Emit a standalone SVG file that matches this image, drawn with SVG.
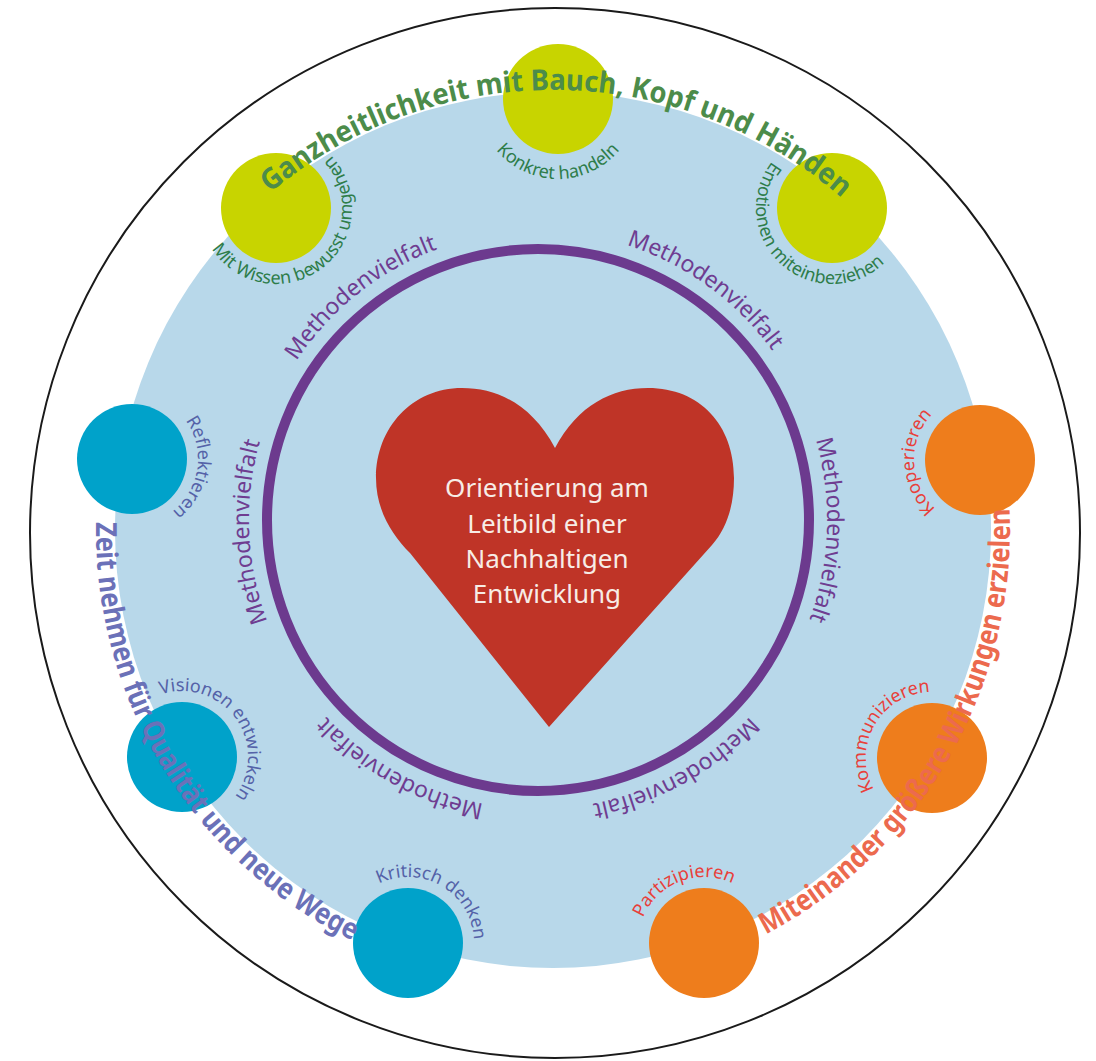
<svg xmlns="http://www.w3.org/2000/svg" width="1096" height="1061" viewBox="0 0 1096 1061">
<style>
.title{font-family:"Noto Sans","Open Sans",sans-serif;font-weight:bold;font-size:29px}
.lbl{font-family:"Noto Sans","Open Sans",sans-serif;font-size:18px}
.mv{font-family:"Noto Sans","Open Sans",sans-serif;font-size:23px;fill:#6f3d91}
.heart-t{font-family:"Noto Sans","Open Sans",sans-serif;font-size:26px;fill:#f7ece6;text-anchor:middle}
.g{fill:#c8d400}.b{fill:#00a2ca}.o{fill:#ee7d1c}
.gt{fill:#2e7d4a}.bt{fill:#5462a8}.ot{fill:#e8403a}
</style>
<defs>
<path id="pT1" d="M 129.0 412.4 A 440 440 0 0 1 979.0 419.8"/>
<path id="pT2" d="M 221.5 215.4 A 457 457 0 0 0 682.8 968.2"/>
<path id="pT3" d="M 436.3 971.8 A 457 457 0 0 0 875.0 205.7"/>
<path id="pM1" d="M 263.9 611.7 A 289 289 0 0 1 689.0 273.6"/>
<path id="pM2" d="M 376.4 280.4 A 289 289 0 0 1 815.8 599.7"/>
<path id="pM3" d="M 646.3 252.0 A 289 289 0 0 1 627.3 794.9"/>
<path id="pM4" d="M 823.4 474.8 A 289 289 0 0 1 348.4 738.1"/>
<path id="pM5" d="M 727.6 738.1 A 289 289 0 0 1 252.6 474.8"/>
<path id="pM6" d="M 450.6 795.5 A 289 289 0 0 1 427.9 252.8"/>
<path id="pKon" d="M 518 29.7 A 80 80 0 1 0 598 29.7"/>
<path id="pMit" d="M 205.5 179.5 A 76 76 0 1 0 265.4 132.7"/>
<path id="pEmo" d="M 847.8 133.7 A 76 76 0 1 0 904.3 184.5"/>
<path id="pRef" d="M 80.3 417.9 A 66 66 0 1 1 70.6 483.2"/>
<path id="pVis" d="M 116.4 763.9 A 66 66 0 1 1 155.2 817.3"/>
<path id="pKri" d="M 350.6 975.5 A 66 66 0 1 1 407.4 1009.0"/>
<path id="pPar" d="M 693.7 1008.2 A 66 66 0 1 1 755.3 984.5"/>
<path id="pKom" d="M 965 815.2 A 66 66 0 1 1 998 758"/>
<path id="pKoo" d="M 1038.3 491.0 A 66 66 0 1 1 1036.0 425.0"/>
</defs>
<rect width="1096" height="1061" fill="#ffffff"/>
<g id="background">
<circle cx="555" cy="533" r="525" fill="#ffffff" stroke="#1a1a1a" stroke-width="2"/>
<circle cx="553" cy="530" r="438" fill="#b8d8ea"/>
</g>
<g id="ring">
<circle cx="538" cy="520" r="271" fill="none" stroke="#6c3a8e" stroke-width="10"/>
<text class="mv"><textPath href="#pM1" startOffset="50%" text-anchor="middle">Methodenvielfalt</textPath></text>
<text class="mv"><textPath href="#pM2" startOffset="50%" text-anchor="middle">Methodenvielfalt</textPath></text>
<text class="mv"><textPath href="#pM3" startOffset="50%" text-anchor="middle">Methodenvielfalt</textPath></text>
<text class="mv"><textPath href="#pM4" startOffset="50%" text-anchor="middle">Methodenvielfalt</textPath></text>
<text class="mv"><textPath href="#pM5" startOffset="50%" text-anchor="middle">Methodenvielfalt</textPath></text>
<text class="mv"><textPath href="#pM6" startOffset="50%" text-anchor="middle">Methodenvielfalt</textPath></text>
</g>
<g id="heart">
<path d="M 555 448 C 532 405 498 388 462 388 C 412 388 376 428 376 478 C 376 510 392 535 410 553 L 549 727 L 712 545 C 727 528 734 505 734 478 C 734 425 700 388 648 388 C 612 388 578 405 555 448 Z" fill="#bf3427"/>
<text class="heart-t" x="547" y="497">Orientierung am</text>
<text class="heart-t" x="547" y="533">Leitbild einer</text>
<text class="heart-t" x="547" y="568">Nachhaltigen</text>
<text class="heart-t" x="547" y="603">Entwicklung</text>
</g>
<g id="node-konkret"><circle class="g" cx="558" cy="99" r="55"/>
<text class="lbl gt"><textPath href="#pKon" startOffset="50%" text-anchor="middle">Konkret handeln</textPath></text></g>
<g id="node-wissen"><circle class="g" cx="276" cy="208" r="55"/>
<text class="lbl gt"><textPath href="#pMit" startOffset="50%" text-anchor="middle">Mit Wissen bewusst umgehen</textPath></text></g>
<g id="node-emotionen"><circle class="g" cx="832" cy="208" r="55"/>
<text class="lbl gt"><textPath href="#pEmo" startOffset="50%" text-anchor="middle">Emotionen miteinbeziehen</textPath></text></g>
<g id="node-reflektieren"><circle class="b" cx="132" cy="459" r="55"/>
<text class="lbl bt"><textPath href="#pRef" startOffset="50%" text-anchor="middle">Reflektieren</textPath></text></g>
<g id="node-visionen"><circle class="b" cx="182" cy="757" r="55"/>
<text class="lbl bt"><textPath href="#pVis" startOffset="50%" text-anchor="middle">Visionen entwickeln</textPath></text></g>
<g id="node-kritisch"><circle class="b" cx="408" cy="943" r="55"/>
<text class="lbl bt"><textPath href="#pKri" startOffset="50%" text-anchor="middle">Kritisch denken</textPath></text></g>
<g id="node-partizipieren"><circle class="o" cx="704" cy="943" r="55"/>
<text class="lbl ot"><textPath href="#pPar" startOffset="50%" text-anchor="middle">Partizipieren</textPath></text></g>
<g id="node-kommunizieren"><circle class="o" cx="932" cy="758" r="55"/>
<text class="lbl ot"><textPath href="#pKom" startOffset="50%" text-anchor="middle">Kommunizieren</textPath></text></g>
<g id="node-kooperieren"><circle class="o" cx="980" cy="460" r="55"/>
<text class="lbl ot"><textPath href="#pKoo" startOffset="50%" text-anchor="middle">Kooperieren</textPath></text></g>
<g id="titles">
<text class="title" fill="#4c8c4a"><textPath href="#pT1" startOffset="50%" text-anchor="middle" textLength="622" lengthAdjust="spacingAndGlyphs">Ganzheitlichkeit mit Bauch, Kopf und Händen</textPath></text>
<text class="title" fill="#6b71b8"><textPath href="#pT2" startOffset="50%" text-anchor="middle" textLength="518" lengthAdjust="spacingAndGlyphs">Zeit nehmen für Qualität und neue Wege</textPath></text>
<text class="title" fill="#ec6a4e"><textPath href="#pT3" startOffset="50%" text-anchor="middle" textLength="518" lengthAdjust="spacingAndGlyphs">Miteinander größere Wirkungen erzielen</textPath></text>
</g>
<g id="connectors"/>
</svg>
